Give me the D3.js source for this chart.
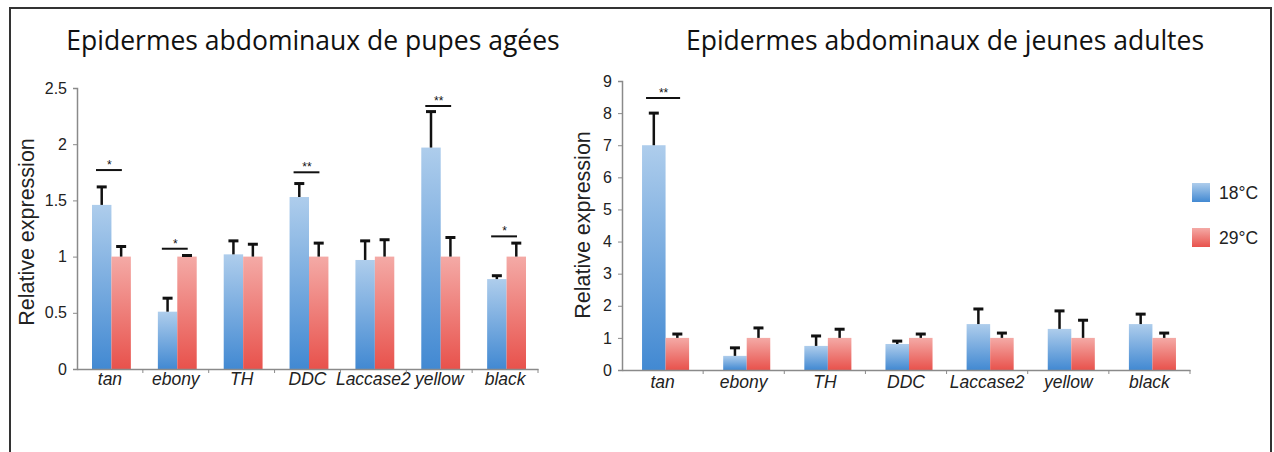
<!DOCTYPE html>
<html>
<head>
<meta charset="utf-8">
<script src="https://cdn.jsdelivr.net/npm/d3@7"></script>
<style>
  body { margin: 0; background: #fff; }
  text { font-family: "Liberation Sans", Arial, sans-serif; }
  .title { font-family: "Open Sans", "Noto Sans", sans-serif; }
</style>
</head>
<body>
<script>
var width = 1274;
var height = 452;

var genes = ["tan", "ebony", "TH", "DDC", "Laccase2", "yellow", "black"];
var series = ["18°C", "29°C"];

// pupes agées
var pupe18 = [1.46, 0.51, 1.02, 1.53, 0.97, 1.97, 0.80];
var pupe18err = [0.16, 0.12, 0.12, 0.12, 0.17, 0.32, 0.03];
var pupe29 = [1.0, 1.0, 1.0, 1.0, 1.0, 1.0, 1.0];
var pupe29err = [0.09, 0.01, 0.11, 0.12, 0.15, 0.17, 0.12];
var pupeStars = [["tan", "*", 1.77], ["ebony", "*", 1.07], ["DDC", "**", 1.75], ["yellow", "**", 2.34], ["black", "*", 1.18]];
var pupeTicks = [0, 0.5, 1, 1.5, 2, 2.5];

// jeunes adultes
var adult18 = [7.0, 0.44, 0.75, 0.81, 1.43, 1.28, 1.43];
var adult18err = [1.0, 0.25, 0.31, 0.09, 0.47, 0.56, 0.31];
var adult29 = [1.0, 1.0, 1.0, 1.0, 1.0, 1.0, 1.0];
var adult29err = [0.12, 0.31, 0.27, 0.12, 0.15, 0.55, 0.15];
var adultStars = [["tan", "**", 8.47]];
var adultTicks = [0, 1, 2, 3, 4, 5, 6, 7, 8, 9];

var svg = d3.select("body")
    .append("svg")
    .attr("width", width)
    .attr("height", height);

var defs = svg.append("defs");
var gradBlue = defs.append("linearGradient").attr("id", "gblue")
    .attr("x1", 0).attr("y1", 0).attr("x2", 0).attr("y2", 1);
gradBlue.append("stop").attr("offset", "0%").attr("stop-color", "#aecdec");
gradBlue.append("stop").attr("offset", "100%").attr("stop-color", "#4289d2");
var gradRed = defs.append("linearGradient").attr("id", "gred")
    .attr("x1", 0).attr("y1", 0).attr("x2", 0).attr("y2", 1);
gradRed.append("stop").attr("offset", "0%").attr("stop-color", "#f4aaa6");
gradRed.append("stop").attr("offset", "100%").attr("stop-color", "#e8524c");
var fills = ["url(#gblue)", "url(#gred)"];

// outer frame
svg.append("path")
    .attr("d", "M10,460 L10,8 L1271,8 L1271,460")
    .attr("fill", "none")
    .attr("stroke", "#333")
    .attr("stroke-width", 2);

function drawChart(cfg){
  var g = svg.append("g");
  var x = d3.scaleBand().domain(genes).range([cfg.x0, cfg.x1]);
  var y = d3.scaleLinear().domain([0, cfg.ymax]).range([cfg.y0, cfg.yTop]);
  var bw = x.bandwidth() * cfg.barFrac;
  var off = (x.bandwidth() - 2 * bw) / 2 + cfg.shift;

  // title
  g.append("text").attr("class", "title")
    .attr("x", cfg.titleX).attr("y", 50)
    .attr("text-anchor", "middle")
    .attr("font-size", 26.5).attr("fill", "#111")
    .text(cfg.title);

  // y label
  g.append("text")
    .attr("transform", "translate(" + cfg.labelX + "," + cfg.labelY + ") rotate(-90)")
    .attr("text-anchor", "middle")
    .attr("font-size", 21.5).attr("fill", "#222")
    .text("Relative expression");

  var sets = [[cfg.v18, cfg.e18], [cfg.v29, cfg.e29]];
  sets.forEach(function(s, k){
    var data = genes.map(function(d, i){ return {g: d, v: s[0][i], e: s[1][i]}; });
    g.selectAll(".bar" + k).data(data).enter().append("rect")
      .attr("x", function(d){ return x(d.g) + off + k * bw; })
      .attr("y", function(d){ return y(d.v); })
      .attr("width", bw)
      .attr("height", function(d){ return y(0) - y(d.v); })
      .attr("fill", fills[k]);
    // error bars (upper only)
    var eb = g.selectAll(".err" + k).data(data).enter().append("g");
    eb.append("line")
      .attr("x1", function(d){ return x(d.g) + off + k * bw + bw / 2; })
      .attr("x2", function(d){ return x(d.g) + off + k * bw + bw / 2; })
      .attr("y1", function(d){ return y(d.v); })
      .attr("y2", function(d){ return y(d.v + d.e); })
      .attr("stroke", "#111").attr("stroke-width", 2.5);
    eb.append("line")
      .attr("x1", function(d){ return x(d.g) + off + k * bw + bw / 2 - 5; })
      .attr("x2", function(d){ return x(d.g) + off + k * bw + bw / 2 + 5; })
      .attr("y1", function(d){ return y(d.v + d.e); })
      .attr("y2", function(d){ return y(d.v + d.e); })
      .attr("stroke", "#111").attr("stroke-width", 3);
  });

  // significance
  var sig = g.selectAll(".sig").data(cfg.stars).enter().append("g");
  sig.append("line")
    .attr("x1", function(d){ return x(d[0]) + off + 4; })
    .attr("x2", function(d){ return x(d[0]) + off + 2 * bw - 9; })
    .attr("y1", function(d){ return y(d[2]); })
    .attr("y2", function(d){ return y(d[2]); })
    .attr("stroke", "#111").attr("stroke-width", 2);
  sig.append("text")
    .attr("x", function(d){ return x(d[0]) + off + bw - 2; })
    .attr("y", function(d){ return y(d[2]) - 1; })
    .attr("text-anchor", "middle")
    .attr("font-size", 12).attr("fill", "#111")
    .text(function(d){ return d[1]; });

  // axes
  var yAxis = d3.axisLeft(y).tickValues(cfg.ticks).tickSize(4).tickPadding(6)
    .tickFormat(function(d){ return d; });
  var ya = g.append("g").attr("transform", "translate(" + cfg.x0 + ",0)").call(yAxis);
  ya.select(".domain").attr("stroke", "#8a8a8a").attr("stroke-width", 1.5);
  ya.selectAll(".tick line").attr("stroke", "#8a8a8a");
  ya.selectAll("text").attr("font-size", 16).attr("fill", "#222")
    .style("font-family", "Liberation Sans, Arial, sans-serif");

  var xAxis = d3.axisBottom(x).tickSize(0).tickPadding(cfg.xPad);
  var xa = g.append("g").attr("transform", "translate(0," + cfg.y0 + ")").call(xAxis);
  xa.select(".domain").attr("stroke", "#8a8a8a").attr("stroke-width", 1.5);
  xa.selectAll("text").attr("font-size", 17.5).attr("fill", "#222")
    .attr("font-style", "italic")
    .style("font-family", "Liberation Sans, Arial, sans-serif");
  // category separators
  xa.selectAll(".sep").data(genes.slice(1).concat(["end"])).enter().append("line")
    .attr("x1", function(d){ return d === "end" ? cfg.x1 : x(d); })
    .attr("x2", function(d){ return d === "end" ? cfg.x1 : x(d); })
    .attr("y1", 0).attr("y2", 4)
    .attr("stroke", "#8a8a8a");
}

drawChart({
  title: "Epidermes abdominaux de pupes agées", titleX: 313,
  x0: 77, x1: 538, y0: 369, yTop: 88, ymax: 2.5,
  v18: pupe18, e18: pupe18err, v29: pupe29, e29: pupe29err,
  stars: pupeStars, ticks: pupeTicks,
  barFrac: 0.295, shift: 1.5, xPad: 4,
  labelX: 34, labelY: 232
});

drawChart({
  title: "Epidermes abdominaux de jeunes adultes", titleX: 945,
  x0: 622, x1: 1190, y0: 370, yTop: 81, ymax: 9,
  v18: adult18, e18: adult18err, v29: adult29, e29: adult29err,
  stars: adultStars, ticks: adultTicks,
  barFrac: 0.29, shift: 3, xPad: 6,
  labelX: 590, labelY: 225
});

// legend
var legend = svg.append("g").selectAll("g").data(series).enter().append("g")
    .attr("transform", function(d, i){ return "translate(1192," + (183 + i * 45) + ")"; });
legend.append("rect").attr("width", 18).attr("height", 19)
    .attr("fill", function(d, i){ return fills[i]; });
legend.append("text").attr("x", 27).attr("y", 16)
    .attr("font-size", 17.5).attr("fill", "#222")
    .text(function(d){ return d; });
</script>
</body>
</html>
